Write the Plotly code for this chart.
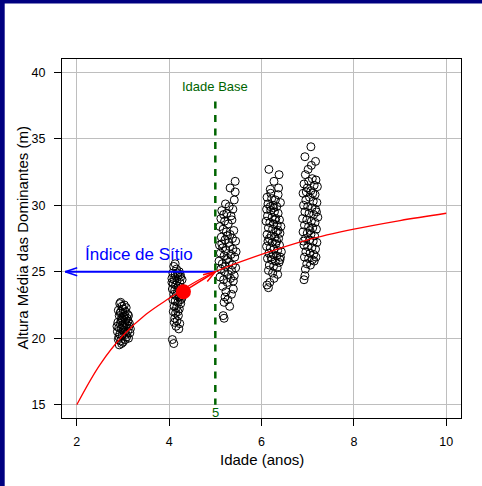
import plotly.graph_objects as go

# ---------------- data ----------------
c1 = [(2.93,22.6),(2.98,22.4),(3.03,22.5),(3.07,22.3),(2.90,22.1),(2.95,22.0),(3.00,21.9),(3.05,22.0),
      (3.10,21.8),(2.92,21.7),(2.97,21.5),(3.02,21.6),(3.06,21.4),(3.11,21.3),(2.89,21.2),(2.94,21.1),
      (2.99,21.0),(3.04,21.2),(3.08,21.0),(3.13,20.9),(2.91,20.8),(2.96,20.7),(3.01,20.6),(3.06,20.8),
      (3.10,20.5),(3.15,20.4),(2.88,20.5),(2.93,20.3),(2.98,20.2),(3.03,20.4),(3.08,20.1),(3.12,20.0),
      (2.90,19.9),(2.95,19.8),(3.00,19.7),(2.92,19.5),(2.97,19.6),(3.05,19.9),(2.94,21.9),(3.00,22.2),
      (3.04,21.7),(2.96,21.3),(3.09,21.5),(3.14,21.1),(2.91,20.1),(3.02,20.9),(3.07,20.3),(2.99,21.4),
      (3.16,20.7),(3.12,21.7),(2.87,20.9),(2.95,22.7)]
c2 = [(4.10,25.4),(4.16,25.2),(4.22,25.0),(4.08,24.9),(4.13,24.8),(4.19,24.7),(4.25,24.6),(4.06,24.5),
      (4.11,24.4),(4.17,24.3),(4.23,24.2),(4.28,24.4),(4.09,24.1),(4.14,24.0),(4.20,23.9),(4.26,23.8),
      (4.07,23.7),(4.12,23.6),(4.18,23.5),(4.24,23.4),(4.30,23.6),(4.10,23.3),(4.15,23.2),(4.21,23.1),
      (4.27,23.0),(4.08,22.9),(4.13,22.8),(4.19,22.7),(4.25,22.6),(4.11,22.4),(4.16,22.3),(4.22,22.2),
      (4.09,22.0),(4.14,21.9),(4.20,21.7),(4.12,21.5),(4.17,21.3),(4.23,21.1),(4.15,20.9),(4.21,20.7),
      (4.07,19.9),(4.10,19.6),(4.18,24.9),(4.06,24.2),(4.28,23.2),(4.24,24.8),(4.13,25.6),(4.19,22.0),
      (4.26,22.9),(4.11,21.2)]
c3 = [(5.43,31.8),(5.32,31.3),(5.43,31.0),(5.41,30.4),(5.22,30.1),(5.30,29.9),(5.38,29.7),(5.14,29.6),
      (5.25,29.4),(5.34,29.2),(5.12,29.0),(5.20,28.8),(5.28,28.6),(5.36,28.9),(5.10,28.4),(5.17,28.2),
      (5.24,28.0),(5.32,27.8),(5.40,28.1),(5.13,27.6),(5.21,27.4),(5.29,27.2),(5.37,27.5),(5.44,27.3),
      (5.09,27.0),(5.16,26.8),(5.23,26.6),(5.31,26.9),(5.38,26.7),(5.45,26.5),(5.11,26.4),(5.19,26.2),
      (5.27,26.0),(5.34,26.3),(5.42,26.1),(5.08,25.8),(5.15,25.6),(5.22,25.4),(5.30,25.7),(5.37,25.5),
      (5.44,25.3),(5.12,25.2),(5.20,25.0),(5.28,24.8),(5.35,25.1),(5.41,24.7),(5.10,24.6),(5.18,24.4),
      (5.26,24.2),(5.33,24.5),(5.16,23.9),(5.23,23.5),(5.21,23.1),(5.27,22.9),(5.35,23.3),(5.31,22.4),
      (5.19,22.7),(5.17,21.7),(5.19,21.5),(5.39,23.7),(5.14,27.1),(5.26,27.7),(5.18,29.3),(5.24,25.9),
      (5.39,24.3)]
c4 = [(6.16,32.7),(6.38,32.3),(6.27,31.8),(6.19,31.2),(6.37,31.3),(6.36,30.8),(6.12,30.6),(6.22,30.5),
      (6.30,30.4),(6.14,30.1),(6.25,30.0),(6.33,29.9),(6.41,30.2),(6.11,29.7),(6.20,29.6),(6.28,29.5),
      (6.36,29.4),(6.13,29.2),(6.23,29.1),(6.31,29.0),(6.39,28.9),(6.10,28.8),(6.18,28.7),(6.26,28.6),
      (6.34,28.5),(6.42,28.4),(6.15,28.3),(6.24,28.2),(6.32,28.0),(6.40,27.9),(6.12,27.8),(6.21,27.7),
      (6.29,27.6),(6.37,27.5),(6.14,27.3),(6.23,27.2),(6.31,27.1),(6.39,27.0),(6.11,26.9),(6.19,26.8),
      (6.27,26.7),(6.35,26.6),(6.43,26.5),(6.16,26.4),(6.25,26.3),(6.33,26.2),(6.41,26.1),(6.13,26.0),
      (6.22,25.9),(6.30,25.8),(6.38,25.7),(6.17,25.5),(6.26,25.4),(6.34,25.3),(6.15,25.1),(6.24,24.9),
      (6.27,24.5),(6.12,24.0),(6.15,23.8),(6.18,24.2),(6.35,24.8),(6.20,30.9),(6.29,28.9),(6.17,27.5),
      (6.33,27.3),(6.21,26.1),(6.36,28.1),(6.26,29.8),(6.40,25.9),(6.19,29.9)]
c5 = [(7.07,34.4),(6.94,33.65),(7.17,33.3),(6.95,32.3),(7.10,32.0),(7.18,31.9),(7.02,31.8),(6.92,31.6),
      (7.14,31.5),(7.21,31.4),(6.99,31.3),(7.07,31.1),(6.90,30.9),(7.16,30.8),(7.04,30.6),(6.96,30.4),
      (7.12,30.3),(7.20,30.2),(6.91,30.0),(7.00,29.9),(7.09,29.8),(7.17,29.7),(6.94,29.5),(7.03,29.4),
      (7.13,29.3),(7.22,29.1),(6.89,29.0),(6.98,28.9),(7.08,28.8),(7.16,28.7),(6.93,28.5),(7.02,28.4),
      (7.11,28.3),(7.19,28.2),(6.90,28.0),(6.99,27.9),(7.07,27.8),(7.15,27.7),(6.95,27.5),(7.04,27.4),
      (7.12,27.3),(7.20,27.2),(6.92,27.0),(7.00,26.9),(7.09,26.8),(7.17,26.7),(6.96,26.5),(7.05,26.4),
      (7.13,26.3),(6.93,26.1),(7.02,26.0),(7.10,25.9),(6.98,25.6),(7.06,25.5),(6.95,25.2),(6.94,24.7),
      (6.92,24.4),(7.14,25.8),(7.01,32.7),(7.11,30.9),(6.97,31.0),(7.19,29.5),(7.05,28.1),(6.91,27.3),
      (7.18,26.1),(7.08,33.0)]

curve_age = [2.0, 2.5, 3.0, 3.5, 4.0, 4.5, 5.0, 6.0, 7.0, 8.0, 9.0, 10.0]
curve_height = [15.0, 18.0, 20.2, 21.8, 23.0, 24.1, 25.0, 26.3, 27.4, 28.2, 28.85, 29.4]

point_age, point_height = 4.31, 23.5      # red observed point
base_age, site_index = 5.0, 25.0          # idade base / índice de sítio
arrow_left_age = 1.75

x_ticks = [2, 4, 6, 8, 10]
y_ticks = [15, 20, 25, 30, 35, 40]

# ---------------- layout geometry ----------------
W, H = 482, 486
L, R, T, B = 62, 21, 59, 68
XR = [1.68, 10.32]
YR = [14.0, 41.0]
PW, PH = W - L - R, H - T - B
FONT = "Liberation Sans, Arial, sans-serif"
NAVY = "#000080"


def to_px(x, y):
    return (L + (x - XR[0]) / (XR[1] - XR[0]) * PW,
            T + PH - (y - YR[0]) / (YR[1] - YR[0]) * PH)


def to_data(px, py):
    return (XR[0] + (px - L) / PW * (XR[1] - XR[0]),
            YR[0] + (T + PH - py) / PH * (YR[1] - YR[0]))


def arrow_head(x0, y0, x1, y1, depth=12, half=4):
    ax, ay = to_px(x0, y0)
    bx, by = to_px(x1, y1)
    dx, dy = bx - ax, by - ay
    n = (dx * dx + dy * dy) ** 0.5
    ux, uy = dx / n, dy / n
    px1, py1 = bx - ux * depth - uy * half, by - uy * depth + ux * half
    px2, py2 = bx - ux * depth + uy * half, by - uy * depth - ux * half
    p1 = to_data(px1, py1)
    p2 = to_data(px2, py2)
    return [p1[0], x1, p2[0]], [p1[1], y1, p2[1]]


def ppx(px):
    return (px - L) / PW


def ppy(py):
    return (T + PH - py) / PH


fig = go.Figure()

for c in (c1, c2, c3, c4, c5):
    fig.add_trace(go.Scatter(
        x=[p[0] for p in c], y=[p[1] for p in c], mode="markers",
        marker=dict(symbol="circle-open", size=8, color="black", line=dict(width=1)),
        hoverinfo="skip", showlegend=False))

fig.add_trace(go.Scatter(x=curve_age, y=curve_height, mode="lines",
                         line=dict(color="#FF0000", width=1.3, shape="spline"),
                         showlegend=False))

# blue arrow (índice de sítio)
fig.add_trace(go.Scatter(x=[base_age, arrow_left_age], y=[site_index, site_index], mode="lines",
                         line=dict(color="#0000FF", width=2), showlegend=False))
hx, hy = arrow_head(base_age, site_index, arrow_left_age, site_index)
fig.add_trace(go.Scatter(x=hx, y=hy, mode="lines", line=dict(color="#0000FF", width=1.5),
                         showlegend=False))

# red arrow
fig.add_trace(go.Scatter(x=[point_age, base_age], y=[point_height, site_index], mode="lines",
                         line=dict(color="#FF0000", width=1.5), showlegend=False))
hx, hy = arrow_head(point_age, point_height, base_age, site_index)
fig.add_trace(go.Scatter(x=hx, y=hy, mode="lines", line=dict(color="#FF0000", width=1.5),
                         showlegend=False))

fig.add_trace(go.Scatter(x=[point_age], y=[point_height], mode="markers",
                         marker=dict(size=15, color="#FF0000"), showlegend=False))

shapes = [
    dict(type="line", xref="x", yref="y", x0=base_age, x1=base_age, y0=37.8, y1=15.0,
         line=dict(color="#006400", width=2.5, dash="7px,6.5px")),
    dict(type="rect", xref="paper", yref="paper", layer="above",
         x0=ppx(0), x1=ppx(4.7), y0=ppy(H), y1=ppy(0),
         fillcolor=NAVY, line=dict(width=0)),
    dict(type="rect", xref="paper", yref="paper", layer="above",
         x0=ppx(0), x1=ppx(W), y0=ppy(3.5), y1=ppy(0),
         fillcolor=NAVY, line=dict(width=0)),
]

annotations = [
    dict(x=base_age, y=38.9, xref="x", yref="y", text="Idade Base", showarrow=False,
         font=dict(family=FONT, size=13, color="#006400")),
    dict(x=base_age, y=14.45, xref="x", yref="y", text="5", showarrow=False,
         font=dict(family=FONT, size=13, color="#006400")),
    dict(x=3.34, y=26.3, xref="x", yref="y", text="Índice de Sítio", showarrow=False,
         font=dict(family=FONT, size=17, color="#0000FF")),
    dict(x=0.5, y=ppy(459), xref="paper", yref="paper", text="Idade (anos)",
         showarrow=False, yanchor="middle", font=dict(family=FONT, size=15, color="black")),
    dict(x=ppx(22), y=0.5, xref="paper", yref="paper",
         text="Altura Média das Dominantes (m)", textangle=-90,
         showarrow=False, xanchor="center", yanchor="middle",
         font=dict(family=FONT, size=15, color="black")),
]

axis_common = dict(showgrid=True, gridcolor="#BEBEBE", gridwidth=1.2, zeroline=False,
                   showline=True, linecolor="black", linewidth=1, mirror=True,
                   ticks="outside", ticklen=7, tickcolor="black", tickwidth=1,
                   tickfont=dict(family=FONT, size=12.5, color="black"))

fig.update_layout(
    width=W, height=H, margin=dict(l=L, r=R, t=T, b=B, pad=0),
    paper_bgcolor="white", plot_bgcolor="white", showlegend=False,
    xaxis=dict(range=XR, tickvals=x_ticks, ticktext=[str(v) for v in x_ticks],
               ticklabelstandoff=5, **axis_common),
    yaxis=dict(range=YR, tickvals=y_ticks, ticktext=[str(v) for v in y_ticks],
               ticklabelstandoff=6, **axis_common),
    shapes=shapes, annotations=annotations,
)

fig.write_html(
    "out.html",
    config={"displayModeBar": False},
    post_script="document.body.style.margin='0';document.body.style.overflow='hidden';",
)
